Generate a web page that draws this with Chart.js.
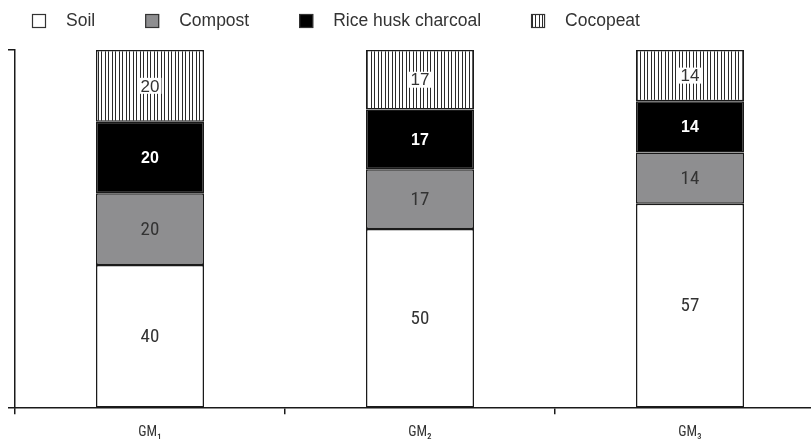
<!DOCTYPE html>
<html><head><meta charset="utf-8">
<script src="https://cdn.jsdelivr.net/npm/chart.js@4.4.0/dist/chart.umd.min.js"></script>
<style>
html,body{margin:0;padding:0;background:#fff;overflow:hidden;width:811px;height:440px}
#wrap{width:825px;height:451px;position:relative}
</style></head>
<body><div id="wrap"><canvas id="c" width="825" height="451"></canvas></div>
<script>
// ---- data ----
const categories = ['GM\u2081', 'GM\u2082', 'GM\u2083'];
const seriesNames = ['Soil', 'Compost', 'Rice husk charcoal', 'Cocopeat'];
const soil = [40, 50, 57.1];
const compost = [20, 16.7, 14.3];
const riceHuskCharcoal = [20, 16.7, 14.3];
const cocopeat = [20, 16.6, 14.3];
const yTickValues = [0, 100];

// ---- styles ----
const INK = '#1a1a1a';
const TEXT = '#333333';
const NARROW = "'Roboto Condensed','Liberation Sans Narrow','Arial Narrow','Liberation Sans',sans-serif";
const SANS = "'Liberation Sans',Arial,sans-serif";

function stripePattern() {
  const c = document.createElement('canvas');
  c.width = 7; c.height = 4;
  const x = c.getContext('2d');
  x.fillStyle = '#ffffff'; x.fillRect(0, 0, 7, 4);
  x.fillStyle = '#2a2a2a';
  x.fillRect(0, 0, 1, 4);
  x.fillRect(3, 0, 1, 4);
  return x.createPattern(c, 'repeat');
}
const stripes = stripePattern();

const fills = ['#ffffff', '#8e8e90', '#000000', stripes];
const labelStyles = [
  { font: '19px ' + NARROW, color: TEXT, bg: false },
  { font: '19px ' + NARROW, color: TEXT, bg: false },
  { font: 'bold 16px ' + SANS, color: '#ffffff', bg: false },
  { font: '17px ' + SANS, color: TEXT, bg: true }
];

const seriesValues = [soil, compost, riceHuskCharcoal, cocopeat];
const datasets = seriesNames.map((n, i) => ({
  label: n,
  data: seriesValues[i],
  backgroundColor: fills[i],
  borderColor: INK,
  borderWidth: 1.5,
  borderSkipped: false,
  barPercentage: 0.4,
  categoryPercentage: 1.0
}));

const barLabels = {
  id: 'barLabels',
  afterDatasetsDraw(chart) {
    const ctx = chart.ctx;
    chart.data.datasets.forEach((ds, i) => {
      const meta = chart.getDatasetMeta(i);
      const st = labelStyles[i];
      meta.data.forEach((bar, j) => {
        const txt = String(Math.round(ds.data[j]));
        const cy = (bar.y + bar.base) / 2;
        ctx.save();
        ctx.font = st.font;
        ctx.textAlign = 'center';
        ctx.textBaseline = 'middle';
        if (st.bg) {
          const w = ctx.measureText(txt).width;
          ctx.fillStyle = '#ffffff';
          ctx.fillRect(bar.x - w / 2 - 2, cy - 8, w + 4, 16);
        }
        ctx.fillStyle = st.color;
        ctx.fillText(txt, bar.x, cy + 1);
        ctx.restore();
      });
    });
  }
};

const topLegend = {
  id: 'topLegend',
  afterDraw(chart) {
    const ctx = chart.ctx;
    const box = 14, gap = 20, itemGap = 50, top = 14;
    let x = 32;
    ctx.save();
    ctx.font = '17.5px ' + SANS;
    ctx.textBaseline = 'middle';
    ctx.textAlign = 'left';
    chart.data.datasets.forEach((ds) => {
      ctx.fillStyle = ds.backgroundColor;
      ctx.fillRect(x, top, box, box);
      ctx.lineWidth = 1.2;
      ctx.strokeStyle = '#333';
      ctx.strokeRect(x + 0.5, top + 0.5, box - 1, box - 1);
      ctx.fillStyle = TEXT;
      ctx.fillText(ds.label, x + box + gap, top + box / 2);
      x += box + gap + ctx.measureText(ds.label).width + itemGap;
    });
    ctx.restore();
  }
};

new Chart(document.getElementById('c'), {
  type: 'bar',
  data: { labels: categories, datasets },
  plugins: [barLabels, topLegend],
  options: {
    responsive: false,
    devicePixelRatio: 1,
    animation: false,
    layout: { padding: { top: 50, left: 8, right: 0, bottom: 0 } },
    plugins: { legend: { display: false }, tooltip: { enabled: false } },
    scales: {
      x: {
        stacked: true,
        offset: true,
        grid: { offset: true, drawOnChartArea: false, drawTicks: true, tickLength: 6, color: INK, lineWidth: 1.5 },
        border: { display: true, color: INK, width: 1.5 },
        ticks: { color: TEXT, padding: 10, font: { family: NARROW, size: 14 } }
      },
      y: {
        stacked: true,
        min: yTickValues[0],
        max: yTickValues[yTickValues.length - 1],
        afterBuildTicks(scale) { scale.ticks = yTickValues.map(v => ({ value: v })); },
        ticks: { display: false },
        grid: { drawOnChartArea: false, drawTicks: true, tickLength: 7, color: INK, lineWidth: 1.5 },
        border: { display: true, color: INK, width: 1.5 }
      }
    }
  }
});
</script>
</body></html>
